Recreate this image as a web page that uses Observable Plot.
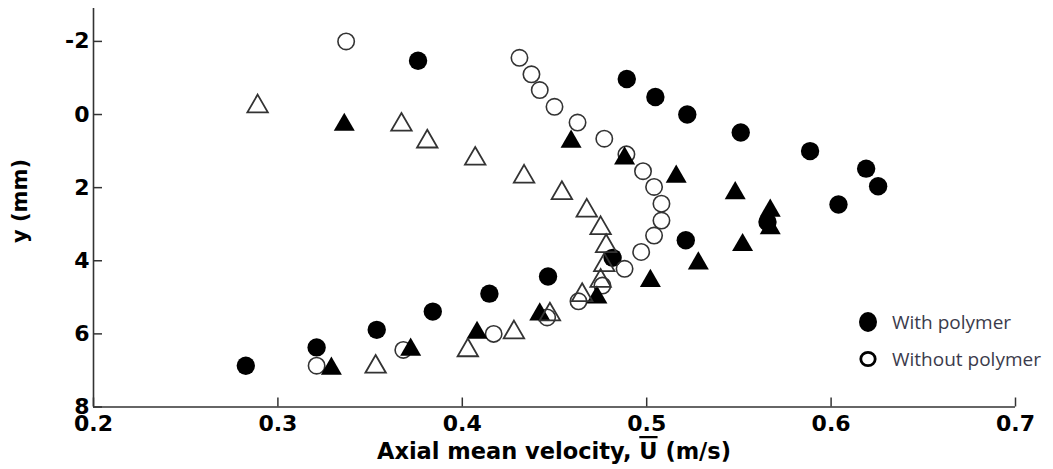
<!DOCTYPE html>
<html><head><meta charset="utf-8">
<script src="https://cdn.jsdelivr.net/npm/d3@7"></script>
<script src="https://cdn.jsdelivr.net/npm/@observablehq/plot@0.6"></script>
<style>
body{margin:0;background:#fff}
#chart{position:relative;width:1053px;height:469px}
</style>
</head><body><div id="chart"></div>
<script>
// Series
const withPolymerA_U = [0.376,0.4892,0.5047,0.522,0.551,0.5886,0.619,0.6255,0.604,0.5655,0.5212,0.4815,0.4465,0.4147,0.384,0.3536,0.321,0.2826];
const withPolymerA_Y = [-1.47,-0.97,-0.48,0.0,0.49,1.0,1.48,1.96,2.46,2.94,3.44,3.92,4.43,4.90,5.39,5.89,6.37,6.87];
const withoutPolymerA_U = [0.337,0.431,0.4375,0.442,0.450,0.4625,0.477,0.489,0.498,0.504,0.508,0.508,0.504,0.497,0.488,0.476,0.463,0.446,0.417,0.368,0.321];
const withoutPolymerA_Y = [-2.0,-1.55,-1.10,-0.67,-0.21,0.22,0.66,1.09,1.55,1.98,2.44,2.90,3.31,3.76,4.22,4.68,5.11,5.55,6.0,6.44,6.87];
const withPolymerB_U = [0.336,0.459,0.488,0.516,0.548,0.567,0.567,0.552,0.528,0.502,0.473,0.442,0.408,0.372,0.329];
const withPolymerB_Y = [0.28,0.74,1.20,1.70,2.15,2.63,3.11,3.57,4.07,4.55,5.00,5.47,5.97,6.43,6.95];
const withoutPolymerB_U = [0.289,0.367,0.381,0.407,0.4335,0.454,0.4675,0.475,0.478,0.477,0.475,0.465,0.4475,0.428,0.403,0.353];
const withoutPolymerB_Y = [-0.22,0.28,0.74,1.21,1.70,2.15,2.63,3.11,3.60,4.12,4.55,4.94,5.47,5.96,6.45,6.90];

const xTicks = [0.2,0.3,0.4,0.5,0.6,0.7];
const yTicks = [-2,0,2,4,6,8];
const xDomain = [0.2,0.7];
const yDomain = [8,-2.9];
const legendLabels = ["With polymer","Without polymer"];
const xLabelParts = ["Axial mean velocity, ","U"," (m/s)"];
const yLabel = "y (mm)";

const zip = (us, ys) => us.map((u,i) => ({u, y: ys[i]}));
const sA = zip(withPolymerA_U, withPolymerA_Y);
const oA = zip(withoutPolymerA_U, withoutPolymerA_Y);
const sB = zip(withPolymerB_U, withPolymerB_Y);
const oB = zip(withoutPolymerB_U, withoutPolymerB_Y);

const W = 1053, H = 469, mL = 93, mR = 38, mT = 8, mB = 62.5;
const plotW = W - mL - mR, plotH = H - mT - mB;
const tickLen = 9;

const chart = Plot.plot({
  width: W, height: H,
  marginLeft: mL, marginRight: mR, marginTop: mT, marginBottom: mB,
  style: {fontFamily: "'DejaVu Sans', sans-serif", fontWeight: "bold", fontSize: "22px", color: "#000", background: "#fff", overflow: "visible"},
  x: {domain: xDomain},
  y: {domain: yDomain},
  marks: [
    Plot.axisX({ticks: xTicks, tickFormat: d => d.toFixed(1), tickSize: 0, tickPadding: 8, label: null, fill: "#000"}),
    Plot.axisY({ticks: yTicks, tickFormat: d => String(d), tickSize: 0, tickPadding: 4, label: null, fill: "#000"}),
    Plot.ruleX(xTicks, {x: d => d, insetTop: plotH - tickLen, stroke: "#333", strokeWidth: 1.5}),
    Plot.ruleY(yTicks, {y: d => d, insetRight: plotW - tickLen, stroke: "#333", strokeWidth: 1.5}),
    Plot.ruleX([xDomain[0]], {stroke: "#333", strokeWidth: 1.6}),
    Plot.ruleY([yDomain[0]], {stroke: "#333", strokeWidth: 1.6}),
    Plot.dot(sA, {x: "u", y: "y", r: 9.2, fill: "#000", stroke: "none"}),
    Plot.dot(oA, {x: "u", y: "y", r: 8.2, fill: "none", stroke: "#333", strokeWidth: 1.6}),
    Plot.dot(sB, {x: "u", y: "y", r: 7.8, symbol: "triangle", fill: "#000", stroke: "none"}),
    Plot.dot(oB, {x: "u", y: "y", r: 7.6, symbol: "triangle", fill: "none", stroke: "#333", strokeWidth: 1.8})
  ]
});

document.getElementById("chart").appendChild(chart);

const svg = d3.select(chart);
// x-axis title with overlined U
const xt = svg.append("text")
  .attr("x", mL + plotW / 2).attr("y", 459)
  .attr("text-anchor", "middle")
  .style("font-family", "'DejaVu Sans', sans-serif").style("font-weight", "bold").style("font-size", "22.5px").attr("fill", "#000");
xt.append("tspan").text(xLabelParts[0]);
xt.append("tspan").style("text-decoration", "overline").text(xLabelParts[1]);
xt.append("tspan").text(xLabelParts[2]);

// y-axis title
svg.append("text")
  .attr("transform", `translate(27,201) rotate(-90)`)
  .attr("text-anchor", "middle")
  .style("font-family", "'DejaVu Sans', sans-serif").style("font-weight", "bold").style("font-size", "21px").attr("fill", "#000")
  .text(yLabel);

// legend
const lg = svg.append("g").attr("transform", "translate(868,322)");
lg.append("ellipse").attr("cx", 0).attr("cy", 0).attr("rx", 9).attr("ry", 10).attr("fill", "#000");
lg.append("ellipse").attr("cx", 0).attr("cy", 37).attr("rx", 7.2).attr("ry", 6.6).attr("fill", "none").attr("stroke", "#000").attr("stroke-width", 2.8);
legendLabels.forEach((t, i) => {
  lg.append("text").attr("x", 24).attr("y", i * 37).attr("dy", "0.35em")
    .attr("text-anchor", "start")
    .style("font-family", "'Open Sans', sans-serif").style("font-weight", "normal").style("font-size", "19px")
    .attr("fill", "#3b3b4b").text(t);
});
</script>
</body></html>
